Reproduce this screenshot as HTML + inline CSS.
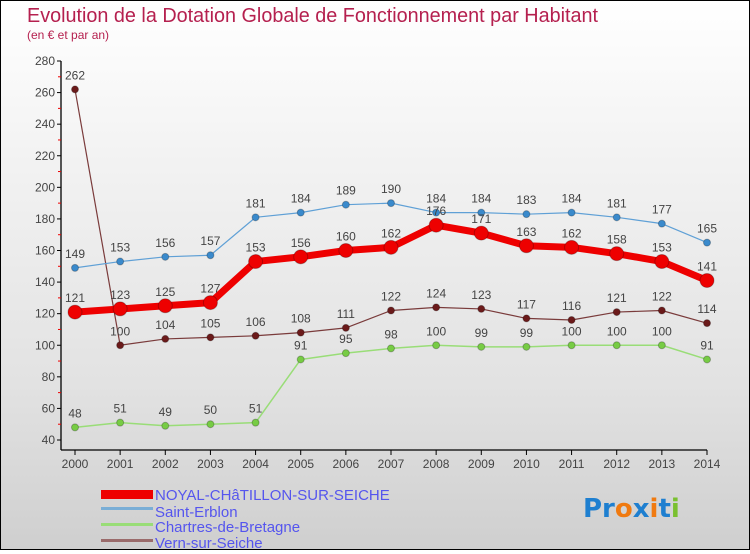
<!DOCTYPE html>
<html><head><meta charset="utf-8"><style>
html,body{margin:0;padding:0}
body{width:750px;height:550px;overflow:hidden;font-family:"Liberation Sans",sans-serif}
#wrap{position:relative;width:748px;height:548px;border:1px solid #000;background:linear-gradient(#fff 0%,#f2f2f2 30%,#e2e2e2 70%,#cfcfcf 100%)}
</style></head><body>
<div id="wrap">
<svg id="svg" width="748" height="548" xmlns="http://www.w3.org/2000/svg">
<text x="26" y="21" font-size="20" fill="#b5204f" textLength="571" lengthAdjust="spacingAndGlyphs">Evolution de la Dotation Globale de Fonctionnement par Habitant</text>
<text x="26" y="38" font-size="12" fill="#b5204f">(en € et par an)</text>
<g id="axes"></g><g id="series"></g>
<g>
<rect x="100" y="489" width="52" height="9" fill="#e00"/>
<text x="154" y="499" font-size="15" fill="#5555ee">NOYAL-CHâTILLON-SUR-SEICHE</text>
<rect x="100" y="506" width="52" height="3" fill="#7aaed6"/>
<text x="154" y="516" font-size="15" fill="#5555ee">Saint-Erblon</text>
<rect x="100" y="522" width="52" height="3" fill="#99dd77"/>
<text x="154" y="531" font-size="15" fill="#5555ee">Chartres-de-Bretagne</text>
<rect x="100" y="538" width="52" height="3" fill="#9a6b6b"/>
<text x="154" y="547" font-size="15" fill="#5555ee">Vern-sur-Seiche</text>
</g>
<g font-size="26" font-weight="bold" font-family="'DejaVu Sans',sans-serif">
<text x="582" y="516"><tspan fill="#1e7fd0">Pr</tspan><tspan fill="#f07a10">o</tspan><tspan fill="#1e7fd0">x</tspan><tspan fill="#f07a10">i</tspan><tspan fill="#1e7fd0">t</tspan><tspan fill="#7ac030">i</tspan></text>
</g>
</svg></div>
<script>
const years=[2000,2001,2002,2003,2004,2005,2006,2007,2008,2009,2010,2011,2012,2013,2014];
const yTicks=[40,60,80,100,120,140,160,180,200,220,240,260,280];
const noyal=[121,123,125,127,153,156,160,162,176,171,163,162,158,153,141];
const saintErblon=[149,153,156,157,181,184,189,190,184,184,183,184,181,177,165];
const chartres=[48,51,49,50,51,91,95,98,100,99,99,100,100,100,91];
const vern=[262,100,104,105,106,108,111,122,124,123,117,116,121,122,114];
const NS="http://www.w3.org/2000/svg";
const X0=74,X1=706,Y40=439,Y280=60;
const xs=i=>X0+(X1-X0)*i/(years.length-1);
const ys=v=>Y40-(v-40)*(Y40-Y280)/240;
function mk(tag,at,parent){const e=document.createElementNS(NS,tag);for(const k in at)e.setAttribute(k,at[k]);parent.appendChild(e);return e;}
const ax=document.getElementById('axes');
let a=mk('line',{x1:60,y1:Y280,x2:60,y2:449,stroke:'#000','stroke-width':1.3},ax);


a=mk('line',{x1:60,y1:449,x2:X1,y2:449,stroke:'#000','stroke-width':1.3},ax);


yTicks.forEach((t,i)=>{
 const y=ys(t);
 mk('line',{x1:56,y1:y,x2:60,y2:y,stroke:'#000'},ax);
 if(i<yTicks.length-1){const m=ys(t+10);mk('line',{x1:57,y1:m,x2:60,y2:m,stroke:'#e00'},ax);}
 const tx=mk('text',{x:54,y:y+4,'font-size':12,fill:'#444','text-anchor':'end'},ax);tx.textContent=t;
 
 
});
years.forEach((yr,i)=>{
 const x=xs(i);
 mk('line',{x1:x,y1:449,x2:x,y2:454,stroke:'#000'},ax);
 const tx=mk('text',{x:x,y:467,'font-size':12,fill:'#444','text-anchor':'middle'},ax);tx.textContent=yr;
 
 
});
const sg=document.getElementById('series');
function series(vals,name,color,w,r,mcol){
 const g=mk('g',{},sg);
 
 
 mk('polyline',{points:vals.map((v,i)=>xs(i)+','+ys(v)).join(' '),fill:'none',stroke:color,'stroke-width':w,'stroke-linejoin':'round'},g);
 vals.forEach((v,i)=>{
  const c=mk('circle',{cx:xs(i),cy:ys(v),r:r,fill:mcol,stroke:'rgba(0,0,0,0.25)','stroke-width':1},g);
  
  
  const t=mk('text',{x:xs(i),y:ys(v)-10,'font-size':12,fill:'#444','text-anchor':'middle'},g);t.textContent=v;
  
  
 });
}
series(chartres,'chartres','#99dd77',1.5,3.5,'#77cc44');
series(vern,'vern','#7a3b3b',1.2,3.5,'#6b1a1a');
series(saintErblon,'saint-erblon','#5fa0d6',1.2,3.5,'#3a8acc');
series(noyal,'noyal','#ee0000',7,7,'#ee0000');
</script>
</body></html>
